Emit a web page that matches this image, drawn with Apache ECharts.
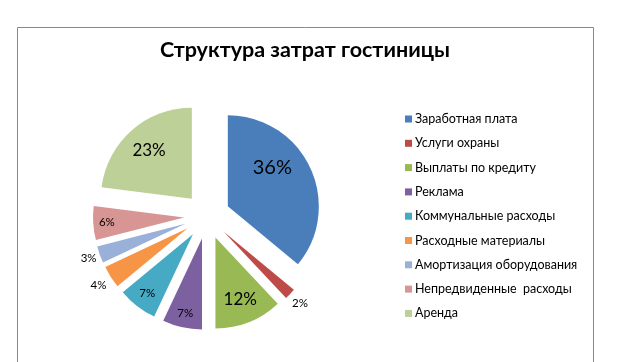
<!DOCTYPE html>
<html><head><meta charset="utf-8">
<script src="https://cdn.jsdelivr.net/npm/echarts@6/dist/echarts.min.js"></script>
<style>html,body{margin:0;padding:0;background:#fff}#c{width:629px;height:362px}</style>
</head><body><div id="c"></div>
<script>
// ---- data ----
const title = 'Структура затрат гостиницы';
const categories = ['Заработная плата','Услуги охраны','Выплаты по кредиту','Реклама','Коммунальные расходы','Расходные материалы','Амортизация оборудования','Непредвиденные  расходы','Аренда'];
const values = [36, 2, 12, 7, 7, 4, 3, 6, 23];

// ---- styles ----
const colors = ['#4A7EBB','#BE4B48','#98B954','#7D60A0','#46AAC5','#F69546','#99B0D8','#D79593','#BCD097'];
const labelFont = [20, 11.5, 17, 11.5, 11.5, 11.5, 11.5, 11.5, 17];
const labelPlace = [[0.65,-16],[1.15,0],[0.74,0],[0.84,0],[0.82,0],[1.16,0],[1.13,0],[0.85,0],[0.71,0]]; // [fraction of radius, angle shift]
const FONT = 'Lato, "Liberation Sans", sans-serif';
const CX = 207, CY = 216, R = 91, EXPLODE = 23;

const total = values.reduce((a,b)=>a+b,0);
const mids = [];
{ let cum = 0; values.forEach(v => { mids.push((cum + v/2)/total*360); cum += v; }); }
function dir(deg){ const r = deg*Math.PI/180; return [Math.sin(r), -Math.cos(r)]; }

const chart = echarts.init(document.getElementById('c'), null, {renderer:'canvas'});
chart.setOption({
  animation: false,
  backgroundColor: '#fff',
  title: {
    text: title, left: 160, top: 39, padding: 0,
    textStyle: {fontFamily: FONT, fontSize: 21.5, fontWeight: 'bold', color: '#000'}
  },
  legend: {
    data: categories, orient: 'vertical', left: 405, top: 112, padding: 0,
    icon: 'rect', itemWidth: 7, itemHeight: 7, itemGap: 10.3,
    selectedMode: false,
    textStyle: {fontFamily: FONT, fontSize: 12.5, color: '#000', lineHeight: 14, padding: [0,0,0,-2]}
  },
  graphic: [{
    type: 'rect', silent: true,
    shape: {x: 17.5, y: 27.5, width: 576, height: 400},
    style: {fill: 'none', stroke: '#888', lineWidth: 1}
  }],
  series: [{
    type: 'pie', name: 'slices',
    center: [CX, CY], radius: [0, R],
    startAngle: 90, clockwise: true,
    selectedMode: 'multiple', selectedOffset: EXPLODE,
    emphasis: {disabled: true},
    itemStyle: {borderWidth: 0},
    label: {show: false}, labelLine: {show: false},
    data: categories.map((name, i) => ({
      name, value: values[i], selected: true,
      itemStyle: {color: colors[i]}
    }))
  }, {
    type: 'pie', name: 'labels', silent: true,
    center: [CX, CY], radius: [0, R],
    startAngle: 90, clockwise: true,
    emphasis: {disabled: true},
    itemStyle: {color: 'rgba(0,0,0,0)', borderWidth: 0},
    labelLine: {show: false},
    avoidLabelOverlap: false,
    label: {
      show: true, position: 'inside', color: '#000', fontFamily: FONT,
      formatter: p => p.value + '%'
    },
    labelLayout: function (params) {
      const i = params.dataIndex;
      const m = mids[i], d0 = dir(m), d1 = dir(m + labelPlace[i][1]), k = labelPlace[i][0];
      return {
        x: CX + EXPLODE*d0[0] + k*R*d1[0],
        y: CY + EXPLODE*d0[1] + k*R*d1[1],
        align: 'center', verticalAlign: 'middle'
      };
    },
    data: categories.map((name, i) => ({
      name, value: values[i],
      label: {fontSize: labelFont[i]}
    }))
  }]
});
</script></body></html>
